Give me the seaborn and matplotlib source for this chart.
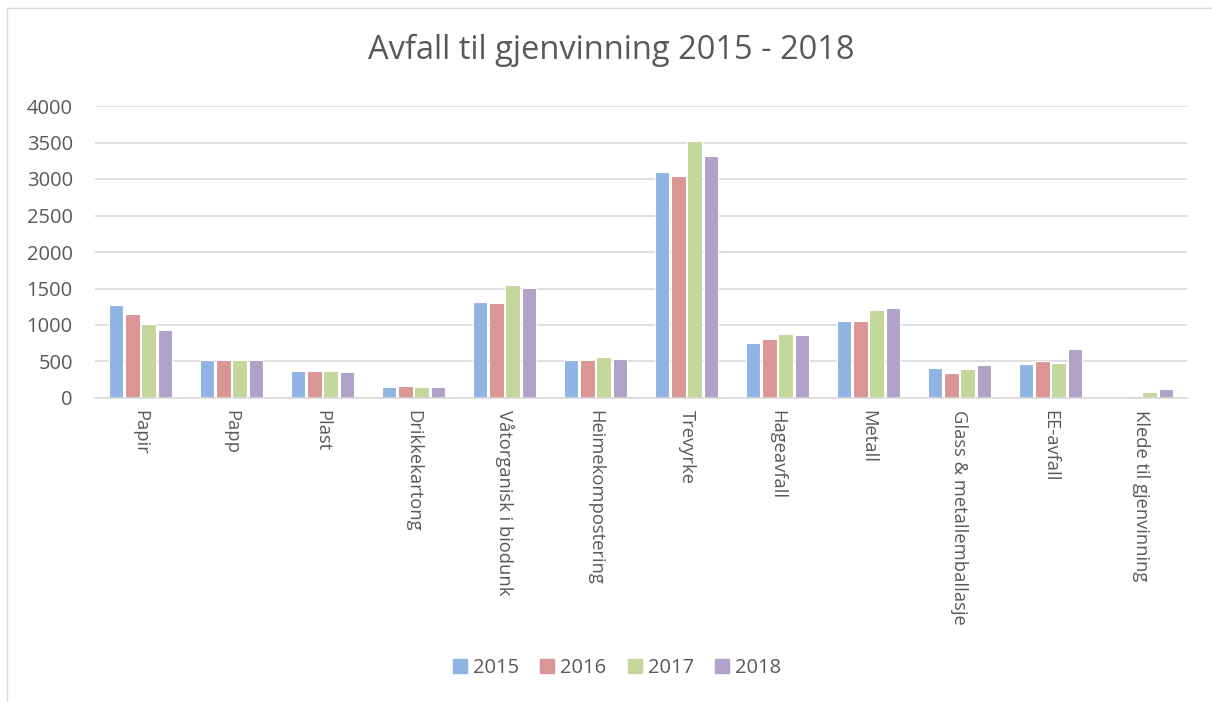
import matplotlib
matplotlib.use("Agg")
import matplotlib.pyplot as plt
import seaborn as sns
import pandas as pd
from matplotlib.lines import Line2D

categories = ["Papir", "Papp", "Plast", "Drikkekartong", "Våtorganisk i biodunk",
              "Heimekompostering", "Trevyrke", "Hageavfall", "Metall",
              "Glass & metallemballasje", "EE-avfall", "Klede til gjenvinning"]
years = ["2015", "2016", "2017", "2018"]
v2015 = [1270, 520, 370, 146, 1310, 520, 3090, 750, 1060, 406, 461, 0]
v2016 = [1150, 525, 365, 169, 1297, 514, 3046, 808, 1055, 342, 502, 27]
v2017 = [1018, 518, 370, 153, 1548, 566, 3517, 877, 1201, 397, 484, 87]
v2018 = [930, 520, 355, 150, 1507, 534, 3320, 863, 1228, 447, 671, 128]
colors = ["#8FB4E3", "#DA9694", "#C4D79B", "#B1A0C7"]

rows = []
for y, vals in zip(years, [v2015, v2016, v2017, v2018]):
    for c, v in zip(categories, vals):
        rows.append({"Kategori": c, "År": y, "Verdi": v})
df = pd.DataFrame(rows)

sns.set_theme(style="white")
plt.rcParams["font.family"] = ["Open Sans", "DejaVu Sans"]

fig = plt.figure(figsize=(12.12, 7.02), dpi=100)
ax = fig.add_axes([95/1212, 1-398/702, (1187-95)/1212, (398-106)/702])

sns.barplot(data=df, x="Kategori", y="Verdi", hue="År", palette=colors,
            saturation=1, width=0.72, gap=0.12, edgecolor="white", linewidth=0.8,
            ax=ax, legend=False)

ax.set_ylim(0, 4000)
ax.set_yticks(range(0, 4001, 500))
ax.set_xlim(-0.5, len(categories) - 0.5)
ax.yaxis.grid(True, color="#D9D9D9", linewidth=1.2)
ax.set_axisbelow(True)
for s in ["top", "right", "left"]:
    ax.spines[s].set_visible(False)
ax.spines["bottom"].set_color("#D9D9D9")
ax.spines["bottom"].set_linewidth(1.2)
ax.set_xlabel("")
ax.set_ylabel("")
ax.tick_params(axis="both", length=0, colors="#595959", labelsize=14.5)
ax.tick_params(axis="y", pad=16)
ax.set_xticks(range(len(categories)))
ax.set_xticklabels(categories, rotation=270, va="top", ha="center")
ax.tick_params(axis="x", labelsize=13.2, pad=9)

fig.text(611/1212, 1-50/702, "Avfall til gjenvinning 2015 - 2018", ha="center",
         va="center", fontsize=23.5, color="#595959")

handles = [Line2D([0], [0], marker="s", linestyle="none", markersize=10,
                  markerfacecolor=c, markeredgecolor=c) for c in colors]
fig.legend(handles, years, loc="center", bbox_to_anchor=(617/1212, 1-668/702),
           ncol=4, frameon=False, fontsize=14.5, handlelength=0.7,
           handletextpad=0.3, columnspacing=1.05, labelcolor="#595959")

# outer chart frame
fig.add_artist(Line2D([7/1212, 7/1212], [0, 1-8/702], transform=fig.transFigure,
                      color="#D9D9D9", linewidth=1))
fig.add_artist(Line2D([7/1212, 1], [1-8/702, 1-8/702], transform=fig.transFigure,
                      color="#D9D9D9", linewidth=1))

fig.savefig("out.png", dpi=100)
